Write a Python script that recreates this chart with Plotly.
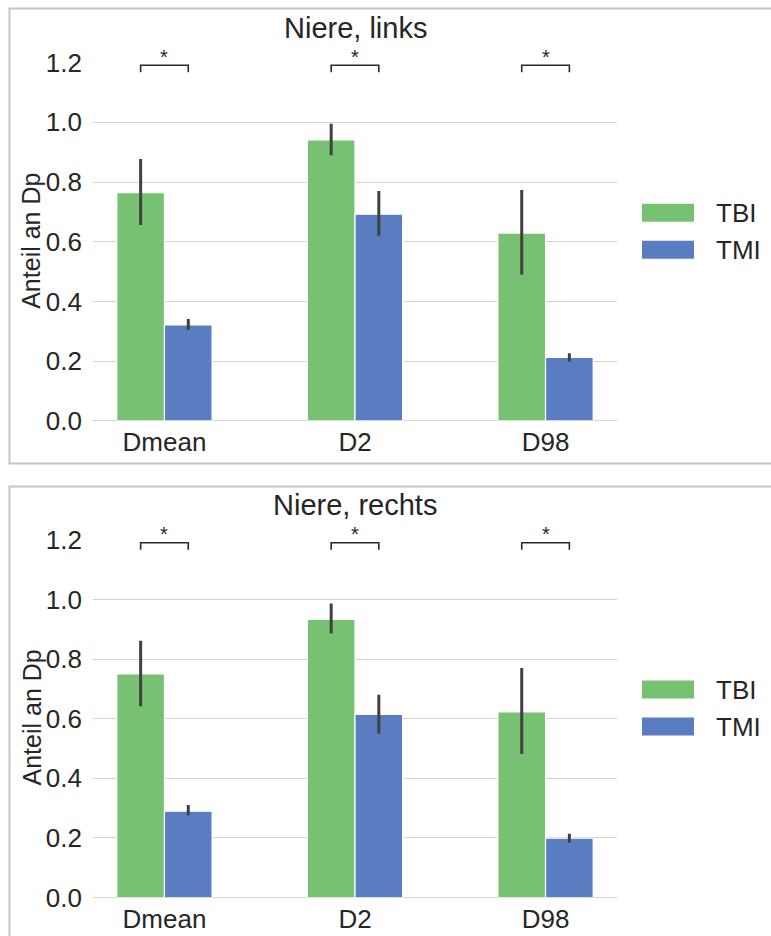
import plotly.graph_objects as go

W, H = 771, 936

categories = ["Dmean", "D2", "D98"]
series_names = ["TBI", "TMI"]
titles = ["Niere, links", "Niere, rechts"]

# panel 1: Niere, links
links_tbi = [0.764, 0.941, 0.629]
links_tbi_hi = [0.877, 0.995, 0.773]
links_tbi_lo = [0.656, 0.890, 0.490]
links_tmi = [0.321, 0.692, 0.212]
links_tmi_hi = [0.341, 0.770, 0.226]
links_tmi_lo = [0.304, 0.620, 0.199]

# panel 2: Niere, rechts
rechts_tbi = [0.751, 0.934, 0.623]
rechts_tbi_hi = [0.862, 0.987, 0.771]
rechts_tbi_lo = [0.642, 0.887, 0.482]
rechts_tmi = [0.290, 0.615, 0.199]
rechts_tmi_hi = [0.311, 0.681, 0.214]
rechts_tmi_lo = [0.276, 0.550, 0.184]

significant = ["*", "*", "*"]
yticks = [0.0, 0.2, 0.4, 0.6, 0.8, 1.0, 1.2]

colors = {"TBI": "#77c172", "TMI": "#5a7dc1"}
TEXT = "#262626"
GRID = "#d4d4d4"
FONT = "Liberation Sans, Arial, sans-serif"


def px_x(p):
    return p / W


def px_y(p):
    return (H - p) / H


panels = [
    dict(title=titles[0], tbi=links_tbi, tbi_hi=links_tbi_hi, tbi_lo=links_tbi_lo,
         tmi=links_tmi, tmi_hi=links_tmi_hi, tmi_lo=links_tmi_lo,
         zero=420.8, scale=298.5, box_top=8.5, box_bot=463.5),
    dict(title=titles[1], tbi=rechts_tbi, tbi_hi=rechts_tbi_hi, tbi_lo=rechts_tbi_lo,
         tmi=rechts_tmi, tmi_hi=rechts_tmi_hi, tmi_lo=rechts_tmi_lo,
         zero=897.5, scale=297.8, box_top=486.5, box_bot=950),
]

YMAX = 1.201
fig = go.Figure()
shapes = []
annotations = []

for i, p in enumerate(panels):
    n = i + 1
    xa = "x" if n == 1 else f"x{n}"
    ya = "y" if n == 1 else f"y{n}"
    for name, vals, hi, lo in [("TBI", p["tbi"], p["tbi_hi"], p["tbi_lo"]),
                               ("TMI", p["tmi"], p["tmi_hi"], p["tmi_lo"])]:
        fig.add_trace(go.Bar(
            x=categories, y=vals, name=name, xaxis=xa, yaxis=ya,
            marker=dict(color=colors[name], line=dict(color="white", width=1.2)),
            error_y=dict(type="data", symmetric=False,
                         array=[h - v for h, v in zip(hi, vals)],
                         arrayminus=[v - l for v, l in zip(vals, lo)],
                         color="#404040", thickness=3, width=0),
            showlegend=False, offsetgroup=name,
        ))

    top_px = p["zero"] - YMAX * p["scale"]
    dom_y = [px_y(p["zero"]), px_y(top_px)]
    axis_common = dict(showline=False, ticks="", color=TEXT, automargin=False,
                       tickfont=dict(size=26, color=TEXT, family=FONT))
    fig.layout[("xaxis" if n == 1 else f"xaxis{n}")] = dict(
        domain=[px_x(93), px_x(617)], range=[-0.375, 2.375], type="category",
        showgrid=False, anchor=ya, ticklabelstandoff=3, **axis_common)
    fig.layout[("yaxis" if n == 1 else f"yaxis{n}")] = dict(
        domain=dom_y, range=[0, YMAX], anchor=xa, tickvals=yticks,
        ticktext=[f"{v:.1f}" for v in yticks], showgrid=True, gridcolor=GRID,
        gridwidth=1.3, zeroline=True, zerolinecolor=GRID, zerolinewidth=1.3,
        ticklabelstandoff=10, **axis_common)

    # panel border
    shapes.append(dict(type="rect", xref="paper", yref="paper",
                       x0=px_x(9.5), x1=px_x(790), y0=px_y(p["box_bot"]), y1=px_y(p["box_top"]),
                       line=dict(color="#c4c4c4", width=2), fillcolor="rgba(0,0,0,0)", layer="below"))

    # significance brackets
    for ci, mark in enumerate(significant):
        shapes.append(dict(type="path", xref=xa, yref=ya,
                           path=f"M {ci-0.125},1.168 L {ci-0.125},1.191 L {ci+0.125},1.191 L {ci+0.125},1.168",
                           line=dict(color="#2a2a2a", width=1.6)))
        annotations.append(dict(xref=xa, yref=ya, x=ci, y=1.2, text=mark, showarrow=False,
                                yanchor="middle", yshift=6,
                                font=dict(size=20, color=TEXT, family=FONT)))

    # title
    annotations.append(dict(xref="paper", yref="paper", x=px_x(355), y=px_y(p["zero"] - 393),
                            text=p["title"], showarrow=False, xanchor="center", yanchor="middle",
                            font=dict(size=29, color=TEXT, family=FONT)))
    # y label
    annotations.append(dict(xref="paper", yref="paper", x=px_x(31), y=px_y(p["zero"] - 180),
                            text="Anteil an Dp", showarrow=False, textangle=-90,
                            xanchor="center", yanchor="middle",
                            font=dict(size=25, color=TEXT, family=FONT)))
    # legend
    for k, name in enumerate(series_names):
        cy = p["zero"] - 208 + k * 37
        shapes.append(dict(type="rect", xref="paper", yref="paper",
                           x0=px_x(642), x1=px_x(694), y0=px_y(cy + 9), y1=px_y(cy - 9),
                           fillcolor=colors[name], line=dict(width=0)))
        annotations.append(dict(xref="paper", yref="paper", x=px_x(714), y=px_y(cy),
                                text=name, showarrow=False, xanchor="left", yanchor="middle",
                                font=dict(size=26, color=TEXT, family=FONT)))

fig.update_layout(
    width=W, height=H, margin=dict(l=0, r=0, t=0, b=0, autoexpand=False),
    paper_bgcolor="white", plot_bgcolor="white",
    barmode="group", bargap=0.5, bargroupgap=0,
    shapes=shapes, annotations=annotations, showlegend=False,
    font=dict(family=FONT, color=TEXT),
)

fig.write_html("out.html")
